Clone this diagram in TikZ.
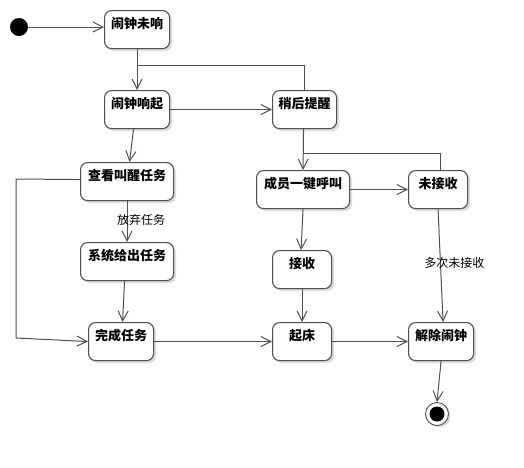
\documentclass[tikz,border=0pt]{standalone}
\usepackage{fontspec}
\setmainfont{Noto Sans CJK SC}
\usetikzlibrary{arrows.meta,shadows}
\definecolor{linegray}{HTML}{505050}
\tikzset{
  box/.style={draw=linegray, line width=1.1pt, rounded corners=7pt, fill=white,
    anchor=north west, inner sep=0pt, text height=18pt, text depth=20pt,
    font=\bfseries\fontsize{13}{13}\selectfont,
    drop shadow={shadow xshift=2.5pt, shadow yshift=-2.5pt, fill=black!14, opacity=1}},
  arr/.style={draw=linegray, line width=1pt, -{Straight Barb[length=10pt,width=10pt,line width=1pt]}},
  plain/.style={draw=linegray, line width=1pt},
  lbl/.style={font=\fontsize{12}{12}\selectfont, inner sep=1pt}
}
\begin{document}
\begin{tikzpicture}[x=1pt,y=-1pt]
\useasboundingbox (0,0) rectangle (524,467);
\fill[white] (0,0) rectangle (524,467);
% start / end
\node[circle, fill=black, minimum size=18pt, inner sep=0pt] (start) at (19,27) {};
\node[circle, draw=linegray, line width=0.9pt, fill=white, minimum size=23pt, inner sep=0pt,
      drop shadow={shadow xshift=2pt, shadow yshift=-2pt, fill=black!14, opacity=1}] (end) at (437,414) {};
\fill[black] (end.center) circle (7.5pt);
% boxes
\node[box, minimum width=65pt] (n1) at (104,10) {闹钟未响};
\node[box, minimum width=65pt] (n2) at (104,90) {闹钟响起};
\node[box, minimum width=64pt] (n3) at (272,90) {稍后提醒};
\node[box, minimum width=93pt] (n4) at (80,162) {查看叫醒任务};
\node[box, minimum width=93pt] (n5) at (256,170) {成员一键呼叫};
\node[box, minimum width=59pt] (n6) at (408,170) {未接收};
\node[box, minimum width=93pt] (n7) at (80,242) {系统给出任务};
\node[box, minimum width=59pt] (n8) at (272,250) {接收};
\node[box, minimum width=65pt] (n9) at (88,322) {完成任务};
\node[box, minimum width=59pt] (n10) at (272,322) {起床};
\node[box, minimum width=65pt] (n11) at (408,322) {解除闹钟};
% junction coordinates
\coordinate (j1) at (136.5,65);
\coordinate (j2) at (303,153);
\coordinate (c1) at (16,179);
\coordinate (c2) at (16,338);
% connectors
\draw[arr] (start.east) -- (n1.west |- start);
\draw[arr] (n1.south) -- (n2.north);
\draw[plain] (n3.north) |- (j1);
\draw[arr] (n2.east) -- (n3.west);
\draw[arr] ([xshift=-3.5pt]n2.south) -- ([xshift=2.5pt]n4.north);
\draw[arr] ([xshift=-1pt]n3.south) -- (n5.north);
\draw[plain] ([xshift=2.5pt]n6.north) |- (j2);
\draw[arr] (n5.east) -- (n6.west);
\draw[arr] (n5.south) -- ([xshift=-1pt]n8.north);
\draw[arr] (n8.south) -- (n10.north);
\draw[arr] (n6.south) -- ([xshift=2pt]n11.north) node[lbl, pos=0.48, xshift=14pt] {多次未接收};
\draw[arr] (n10.east) -- (n11.west);
\draw[arr] (n9.east) -- (n10.west |- n9.east);
\draw[arr] (n11.south) -- (end.north);
\draw[arr] (n4.south) -- (n7.north) node[lbl, pos=0.45, xshift=14pt] {放弃任务};
\draw[arr] ([xshift=-2.5pt]n7.south) -- ([xshift=1.5pt]n9.north);
\draw[arr] ([yshift=2pt]n4.west) -- (c1) -- (c2) -- (n9.west);
\end{tikzpicture}
\end{document}
